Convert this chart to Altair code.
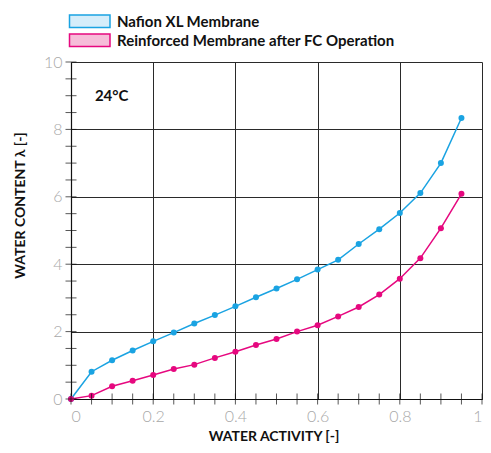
import altair as alt
import pandas as pd

# ---- data ----
activity = [0.0, 0.05, 0.10, 0.15, 0.20, 0.25, 0.30, 0.35, 0.40, 0.45,
            0.50, 0.55, 0.60, 0.65, 0.70, 0.75, 0.80, 0.85, 0.90, 0.95]
nafion = [0.0, 0.81, 1.15, 1.44, 1.71, 1.97, 2.24, 2.49, 2.75, 3.02,
          3.28, 3.55, 3.84, 4.13, 4.60, 5.04, 5.52, 6.11, 7.00, 8.34]
reinforced = [0.0, 0.10, 0.38, 0.54, 0.71, 0.89, 1.02, 1.22, 1.40, 1.60,
              1.78, 2.00, 2.19, 2.45, 2.73, 3.10, 3.57, 4.18, 5.07, 6.09]

series_names = ["Nafion XL Membrane", "Reinforced Membrane after FC Operation"]
line_colors = ["#1aa3e2", "#e6087f"]
swatch_fills = ["#d5edfa", "#f6bdd9"]

x_major = [0, 0.2, 0.4, 0.6, 0.8, 1]
y_major = [0, 2, 4, 6, 8, 10]
x_minor = [round(0.05 * i, 2) for i in range(0, 21)]
y_minor = [0.5 * i for i in range(0, 21)]

annotation = "24°C"

FONT = "Lato"
W, H = 411, 337

df = pd.DataFrame({
    "a": activity * 2,
    "w": nafion + reinforced,
    "s": [series_names[0]] * len(activity) + [series_names[1]] * len(activity),
})

xs = alt.Scale(domain=[0, 1], nice=False, zero=False)
ys = alt.Scale(domain=[0, 10], nice=False, zero=False)
cs = alt.Scale(domain=series_names, range=line_colors)

xaxis = alt.Axis(values=x_major, labelExpr="toString(datum.value)", ticks=False,
                 grid=True, gridColor="#2a2a2a", gridWidth=1, domainColor="#111",
                 domainWidth=1.2, labelColor="#a8a8a8", labelFontSize=16,
                 labelFont=FONT, labelFontWeight=300, labelPadding=9,
                 title="WATER ACTIVITY [-]", titleFont=FONT, titleFontSize=14,
                 titleFontWeight="bold", titleColor="#111", titleY=37,
                 titleBaseline="middle", titleX=W / 2 - 3, titleAlign="center")
yaxis = alt.Axis(values=y_major, ticks=False, grid=True, gridColor="#2a2a2a",
                 gridWidth=1, domainColor="#111", domainWidth=1.2,
                 labelColor="#a8a8a8", labelFontSize=16, labelFont=FONT,
                 labelFontWeight=300, labelPadding=9,
                 title="WATER CONTENT λ [-]", titleFont=FONT, titleFontSize=14,
                 titleFontWeight="bold", titleColor="#111", titleAngle=270,
                 titleX=-51, titleY=143, titleAlign="center", titleBaseline="middle")

base = alt.Chart(df)

lines = base.mark_line(strokeWidth=1.5).encode(
    x=alt.X("a:Q", scale=xs, axis=xaxis),
    y=alt.Y("w:Q", scale=ys, axis=yaxis),
    color=alt.Color("s:N", scale=cs, legend=None),
)
points = base.mark_circle(size=36, opacity=1).encode(
    x=alt.X("a:Q", scale=xs),
    y=alt.Y("w:Q", scale=ys),
    color=alt.Color("s:N", scale=cs, legend=None),
)

xt = alt.Chart(pd.DataFrame({"t": x_minor})).mark_tick(
    orient="vertical", size=11, thickness=1, color="#111").encode(
    x=alt.X("t:Q", scale=xs), y=alt.datum(0))
yt = alt.Chart(pd.DataFrame({"t": y_minor})).mark_tick(
    orient="horizontal", size=11, thickness=1, color="#111").encode(
    y=alt.Y("t:Q", scale=ys), x=alt.datum(0))

note = alt.Chart(pd.DataFrame({"t": [annotation]})).mark_text(
    font=FONT, fontSize=15, fontWeight="bold", color="#111").encode(
    x=alt.datum(0.099), y=alt.datum(8.99), text="t:N")

leg_layers = []
rows = [(-47, -34.5, -40.5), (-28, -15.5, -21.5)]
for i, name in enumerate(series_names):
    y0, y1, yc = rows[i]
    ld = pd.DataFrame({"t": [name]})
    leg_layers.append(alt.Chart(ld).mark_rect(
        fill=swatch_fills[i], stroke=line_colors[i], strokeWidth=1.5).encode(
        x=alt.value(-1.5), x2=alt.value(39), y=alt.value(y0), y2=alt.value(y1)))
    leg_layers.append(alt.Chart(ld).mark_text(
        font=FONT, fontSize=15, fontWeight="bold", color="#111",
        align="left", baseline="middle").encode(
        x=alt.value(46), y=alt.value(yc), text="t:N"))

chart = alt.layer(lines, points, xt, yt, note, *leg_layers).properties(
    width=W, height=H,
    autosize=alt.AutoSizeParams(type="none"),
    padding={"left": 63, "top": 54, "right": 1, "bottom": 46},
).configure_view(stroke=None)

chart.save("out.html", embed_options={"renderer": "svg", "actions": False})
